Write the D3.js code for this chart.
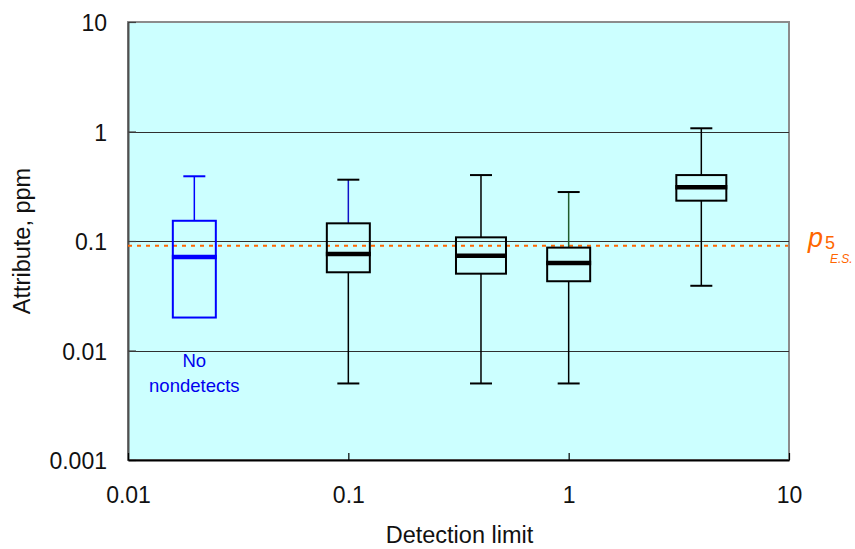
<!DOCTYPE html>
<html>
<head>
<meta charset="utf-8">
<script src="https://cdn.jsdelivr.net/npm/d3@7/dist/d3.min.js"></script>
<style>
  html, body { margin: 0; padding: 0; background: #ffffff; }
  svg { display: block; font-family: "Liberation Sans", Arial, sans-serif; }
</style>
</head>
<body>
<svg id="chart" width="855" height="549"></svg>
<script>
// Box-plot summaries of the attribute, grouped by detection limit (ppm)
const detectionLimits = [0.02, 0.1, 0.4, 1, 4];
const whiskerHigh     = [0.39, 0.363, 0.40, 0.28, 1.07];
const upperQuartile   = [0.153, 0.145, 0.108, 0.087, 0.40];
const medians         = [0.0714, 0.076, 0.0734, 0.063, 0.309];
const lowerQuartile   = [0.020, 0.0518, 0.0503, 0.0429, 0.2335];
const whiskerLow      = [null, 0.005, 0.005, 0.005, 0.039];

// Reference level p5 (E.S.)
const p5Level = 0.0906;

// Axis ticks
const xTicks = [0.01, 0.1, 1, 10];
const xTickLabels = ["0.01", "0.1", "1", "10"];
const yTicks = [0.001, 0.01, 0.1, 1, 10];
const yTickLabels = ["0.001", "0.01", "0.1", "1", "10"];

// ---- drawing ----
const svg = d3.select("#chart");
const plot = { left: 128, right: 789, top: 22, bottom: 460 };

const x = d3.scaleLog().domain([0.01, 10]).range([plot.left, plot.right]);
const y = d3.scaleLog().domain([0.001, 10]).range([plot.bottom, plot.top]);

// per-box appearance
const boxWidth   = [43, 43, 50, 43, 50];
const boxColor   = ["#0000ff", "#000000", "#000000", "#000000", "#000000"];
const upperStem  = ["#0000ff", "#1010c8", "#000000", "#1f5a2a", "#000000"];
const capWidth = 22;

// plot background + frame
svg.append("rect")
  .attr("x", plot.left).attr("y", plot.top)
  .attr("width", plot.right - plot.left).attr("height", plot.bottom - plot.top)
  .attr("fill", "#ccffff")
  .attr("stroke", "#8c8c8c").attr("stroke-width", 2);

// horizontal gridlines at interior decades
svg.append("g").selectAll("line")
  .data(yTicks.filter(v => v > 0.001 && v < 10))
  .join("line")
  .attr("x1", plot.left).attr("x2", plot.right)
  .attr("y1", d => Math.round(y(d)) + 0.5).attr("y2", d => Math.round(y(d)) + 0.5)
  .attr("stroke", "#303030").attr("stroke-width", 1);

// axes
const yAxis = d3.axisLeft(y)
  .tickValues(yTicks)
  .tickFormat((d, i) => yTickLabels[i])
  .tickSizeInner(-8).tickSizeOuter(0).tickPadding(21);
const gy = svg.append("g").attr("transform", `translate(${plot.left},0)`).call(yAxis);
gy.select(".domain").attr("stroke", "#505050").attr("stroke-width", 2);
gy.selectAll(".tick line").attr("stroke", "#404040").attr("stroke-width", 1.2);
gy.selectAll(".tick text")
  .attr("font-size", 23).attr("fill", "#111")
  .attr("font-family", "Liberation Sans, Arial, sans-serif")
  .attr("dy", null).attr("y", 8.5);

const xAxis = d3.axisBottom(x)
  .tickValues(xTicks)
  .tickFormat((d, i) => xTickLabels[i])
  .tickSizeInner(-7).tickSizeOuter(0).tickPadding(0);
const gx = svg.append("g").attr("transform", `translate(0,${plot.bottom})`).call(xAxis);
gx.select(".domain").attr("stroke", "#000").attr("stroke-width", 2);
gx.selectAll(".tick line").attr("stroke", "#000").attr("stroke-width", 1.2);
gx.selectAll(".tick text")
  .attr("font-size", 23).attr("fill", "#111")
  .attr("font-family", "Liberation Sans, Arial, sans-serif")
  .attr("dy", null).attr("y", 43);

// p5 reference line
svg.append("line")
  .attr("x1", plot.left).attr("x2", plot.right - 1)
  .attr("y1", y(p5Level)).attr("y2", y(p5Level))
  .attr("stroke", "#ff6600").attr("stroke-width", 2)
  .attr("stroke-dasharray", "4,5");

// boxes
const boxes = detectionLimits.map((dl, i) => ({
  dl, i,
  hi: whiskerHigh[i], q3: upperQuartile[i], med: medians[i],
  q1: lowerQuartile[i], lo: whiskerLow[i]
}));

const gb = svg.append("g");
boxes.forEach(b => {
  const cx = x(b.dl);
  const w = boxWidth[b.i];
  const col = boxColor[b.i];
  const g = gb.append("g");

  // upper whisker
  g.append("line")
    .attr("x1", cx).attr("x2", cx)
    .attr("y1", y(b.hi)).attr("y2", y(b.q3))
    .attr("stroke", upperStem[b.i]).attr("stroke-width", 1.5);
  g.append("line")
    .attr("x1", cx - capWidth / 2).attr("x2", cx + capWidth / 2)
    .attr("y1", y(b.hi)).attr("y2", y(b.hi))
    .attr("stroke", col).attr("stroke-width", 2);

  // lower whisker
  if (b.lo != null) {
    g.append("line")
      .attr("x1", cx).attr("x2", cx)
      .attr("y1", y(b.q1)).attr("y2", y(b.lo))
      .attr("stroke", col).attr("stroke-width", 1.5);
    g.append("line")
      .attr("x1", cx - capWidth / 2).attr("x2", cx + capWidth / 2)
      .attr("y1", y(b.lo)).attr("y2", y(b.lo))
      .attr("stroke", col).attr("stroke-width", 2);
  }

  // interquartile box
  g.append("rect")
    .attr("x", cx - w / 2).attr("y", y(b.q3))
    .attr("width", w).attr("height", y(b.q1) - y(b.q3))
    .attr("fill", "none").attr("stroke", col).attr("stroke-width", 2);

  // median
  g.append("line")
    .attr("x1", cx - w / 2 - 1).attr("x2", cx + w / 2 + 1)
    .attr("y1", y(b.med)).attr("y2", y(b.med))
    .attr("stroke", col).attr("stroke-width", 4.5);
});

// note under the first box
const noteX = x(detectionLimits[0]);
const note = svg.append("text")
  .attr("text-anchor", "middle")
  .attr("font-size", 18.5).attr("fill", "#0000ee");
note.append("tspan").attr("x", noteX).attr("y", 367).text("No");
note.append("tspan").attr("x", noteX).attr("y", 391.5).text("nondetects");

// p5 label
const yP = y(p5Level);
const p5Label = svg.append("g").attr("fill", "#ff6600");
p5Label.append("text").attr("x", 808).attr("y", yP + 1)
  .attr("font-size", 27).attr("font-style", "italic").text("p");
p5Label.append("text").attr("x", 825).attr("y", yP + 3)
  .attr("font-size", 18).text("5");
p5Label.append("text").attr("x", 830).attr("y", yP + 17.5)
  .attr("font-size", 12).attr("font-style", "italic").text("E.S.");

// axis titles
svg.append("text")
  .attr("x", (plot.left + plot.right) / 2 + 1).attr("y", 543)
  .attr("text-anchor", "middle").attr("font-size", 23.5).attr("fill", "#111")
  .text("Detection limit");

svg.append("text")
  .attr("transform", `translate(30,${(plot.top + plot.bottom) / 2}) rotate(-90)`)
  .attr("text-anchor", "middle").attr("font-size", 23.5).attr("fill", "#111")
  .text("Attribute, ppm");
</script>
</body>
</html>
